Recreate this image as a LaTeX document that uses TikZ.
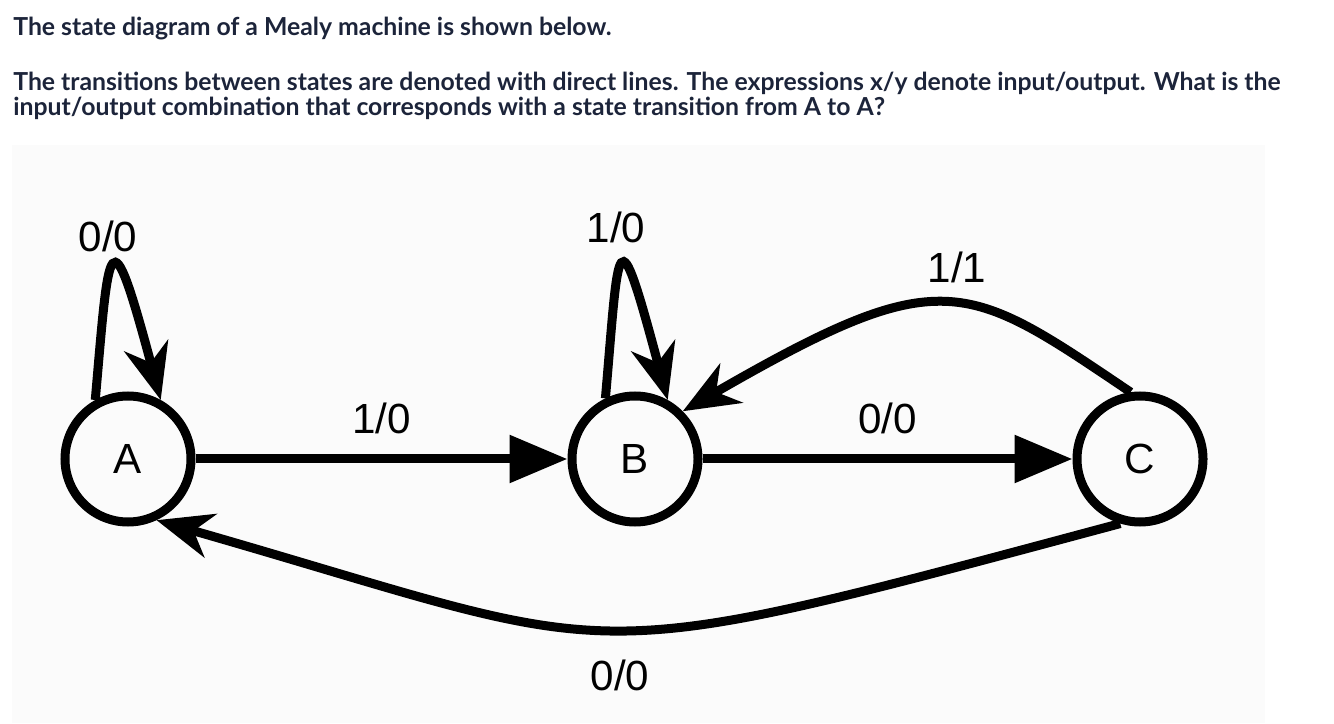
\documentclass[tikz,border=0pt]{standalone}
\usepackage{fontspec}
\usetikzlibrary{arrows.meta}
\newfontfamily\headfont{Lato}
\newfontfamily\labelfont{Liberation Sans}
\definecolor{qtext}{RGB}{28,36,58}
\definecolor{panel}{RGB}{251,251,251}
\tikzset{state/.style={circle,draw,line width=0.18cm,minimum size=2.52cm,inner sep=0pt,
  font=\labelfont\fontsize{24}{28}\selectfont},
 straight/.style={line width=0.18cm,-{Triangle[length=1.16cm,width=0.92cm]}},
 curvy/.style={line width=0.18cm,-{Stealth[length=1.12cm,width=0.9cm,inset=0.35cm]}},
 lbl/.style={font=\labelfont\fontsize{24}{28}\selectfont},
 question/.style={anchor=base west,inner sep=0pt,text=qtext,
  font=\headfont\bfseries\fontsize{14.1}{17}\selectfont}}

\begin{document}
\begin{tikzpicture}
\useasboundingbox (0,0) rectangle (26.68,14.46);
\fill[panel] (0.24,0) rectangle (25.30,11.56);
\node[question] (q1) at (0.26,13.74) {The state diagram of a Mealy machine is shown below.};
\node[question] (q2) at (0.26,12.64) {The transitions between states are denoted with direct lines. The expressions x/y denote input/output. What is the};
\node[question] (q3) at (0.26,12.14) {input/output combination that corresponds with a state transition from A to A?};
\node[state] (A) at (2.56,5.28) {A};
\node[state] (B) at (12.70,5.28) {B};
\node[state] (C) at (22.80,5.28) {C};
\draw[straight] (A) -- (B) node[lbl,midway,above=0.3cm] (lAB) {1/0};
\draw[straight] (B) -- (C) node[lbl,midway,above=0.3cm] (lBC) {0/0};
\draw[curvy] (A.119) .. controls +(85:3.2) and +(105:4) .. (A.61);
\draw[curvy] (B.116) .. controls +(85:3.2) and +(105:4) .. (B.61);
\draw[curvy] (C.98) .. controls +(146:4) and +(30:6) .. (B.45);
\draw[curvy] (C.253) .. controls +(195:11.6) and +(344:10) .. (A.295);
\node[lbl] (lAA) at (2.16,9.74) {0/0};
\node[lbl] (lBB) at (12.32,9.92) {1/0};
\node[lbl] (lCB) at (19.14,9.12) {1/1};
\node[lbl] (lCA) at (12.40,0.96) {0/0};
\end{tikzpicture}
\end{document}
